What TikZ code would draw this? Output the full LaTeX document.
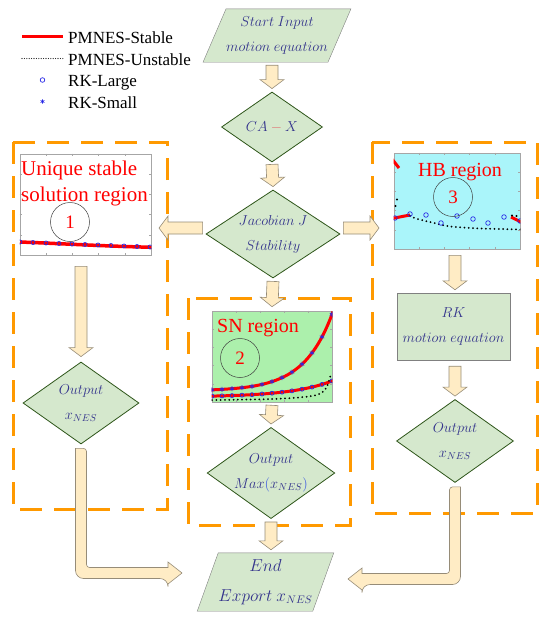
\documentclass[tikz,border=0pt]{standalone}
\usepackage[no-math]{fontspec}
\setmainfont{Liberation Serif}
\usetikzlibrary{calc,shapes.geometric,plotmarks,backgrounds}

\definecolor{boxfill}{RGB}{213,232,205}
\definecolor{boxline}{RGB}{45,85,25}
\definecolor{ink}{RGB}{52,52,140}
\definecolor{minusred}{RGB}{225,110,110}
\definecolor{parblue}{RGB}{60,90,225}
\definecolor{arrowfill}{RGB}{255,236,197}
\definecolor{arrowline}{RGB}{150,140,120}
\definecolor{dashorange}{RGB}{255,153,0}
\definecolor{snfill}{RGB}{172,240,172}
\definecolor{hbfill}{RGB}{170,245,250}
\definecolor{rkblue}{RGB}{40,40,230}

\newcommand{\panah}[2]{%
  \coordinate (pa) at (#1);
  \coordinate (pb) at (#2);
  \coordinate (ph) at ($(pb)!9pt!(pa)$);
  \filldraw[blockarrow] ($(pa)!6pt!90:(pb)$) -- ($(ph)!6pt!90:(pb)$) -- ($(ph)!12pt!90:(pb)$)
    -- (pb) -- ($(ph)!12pt!-90:(pb)$) -- ($(ph)!6pt!-90:(pb)$) -- ($(pa)!6pt!-90:(pb)$) -- cycle;}

\begin{document}
\begin{tikzpicture}[x=1pt,y=-1pt,
  flowtext/.style={text=ink,align=center,inner sep=0pt,font=\fontsize{14}{25}\selectfont},
  decision/.style={flowtext,diamond,aspect=1.5,fill=boxfill,draw=boxline,thick},
  io/.style={fill=boxfill,draw=gray},
  blockarrow/.style={fill=arrowfill,draw=arrowline,line width=0.6pt},
  region/.style={draw=dashorange,line width=3pt,dash pattern=on 22pt off 12pt},
  plotframe/.style={draw=gray!70,line width=0.6pt,inner sep=0pt},
  numcirc/.style={circle,draw=gray!50!black,line width=0.5pt,minimum size=39,inner sep=0pt,
    text=red,font=\fontsize{19}{20}\selectfont},
  stable/.style={red,line width=3pt},
  unstable/.style={black,line width=2pt,line cap=round,dash pattern=on 0pt off 4.3pt},
  rklarge/.style={rkblue,line width=0.7pt},
  legend/.style={anchor=base west,inner sep=0pt,font=\fontsize{17}{20}\selectfont}]
  \useasboundingbox (0,0) rectangle (550,624);

  \coordinate (Jl) at (159,228);
  \coordinate (Jr) at (379,228);
  \coordinate (Lt) at (182,573);
  \coordinate (Rt) at (348,579);

  \draw[region] (13,142) rectangle (167,509);
  \draw[region] (188,298) rectangle (350,525);
  \draw[region] (372,142) rectangle (537,513);

  \draw[stable] (22,36.5) -- (63,36.5);
  \node[legend] (l1) at (68,43) {PMNES-Stable};
  \draw[black,line width=1.1pt,line cap=round,dash pattern=on 0pt off 2.4pt] (22,58.5) -- (63,58.5);
  \node[legend] (l2) at (68,65) {PMNES-Unstable};
  \draw[rklarge] (42.5,80) circle (2.3);
  \node[legend] (l3) at (68,86) {RK-Large};
  \path plot[only marks,mark=asterisk,mark size=2.2pt,mark options={rkblue,line width=0.6pt}] coordinates {(42.5,101.5)};
  \node[legend] (l4) at (68,108) {RK-Small};

  \node[flowtext,minimum width=94,minimum height=53] (S) at (277,35.5) {$Start\ Input$\\$motion\ equation$};
  \node[decision,minimum width=101,minimum height=70] (CA) at (272,127) {$CA\mathbin{\color{minusred}-}X$};
  \node[decision,minimum width=134,minimum height=88] (J) at (273,234) {$Jacobian\ J$\\$Stability$};
  \node[decision,minimum width=116,minimum height=82] (OL) at (81,403) {$Output$\\$x_{NES}$};
  \node[decision,minimum width=117,minimum height=83,aspect=1.4] (OM) at (271,473) {$Output$\\$Max{\color{parblue}(}x_{NES}{\color{parblue})}$};
  \node[decision,minimum width=117,minimum height=83] (OR) at (455,441) {$Output$\\$x_{NES}$};
  \node[flowtext,draw=gray,fill=boxfill,minimum width=113,minimum height=67] (RK) at (453.5,326.5) {$RK$\\$motion\ equation$};
  \node[flowtext,font=\fontsize{16}{30}\selectfont,minimum width=91,minimum height=58] (E) at (265.5,582) {$End$\\$Export\ x_{NES}$};
  \begin{scope}[on background layer]
    \filldraw[io] ($(S.south west)+(-23,0)$) -- (S.north west) -- ($(S.north east)+(23,0)$) -- (S.south east) -- cycle;
    \filldraw[io] ($(E.south west)+(-21,0)$) -- (E.north west) -- ($(E.north east)+(21,0)$) -- (E.south east) -- cycle;
  \end{scope}

  \node[plotframe,fill=white,minimum width=131,minimum height=101] (P1) at (85.5,204.5) {};
  \node[plotframe,fill=snfill,minimum width=120,minimum height=91] (P2) at (272,356.5) {};
  \node[plotframe,fill=hbfill,minimum width=126,minimum height=96] (P3) at (457,201) {};
  \foreach \p in {P1,P2,P3} {
    \foreach \t in {0.2,0.4,0.6,0.8} {
      \draw[gray!70,line width=0.4pt] ($(\p.south west)!\t!(\p.south east)$) -- ++(0,-2.5);
      \draw[gray!70,line width=0.4pt] ($(\p.north west)!\t!(\p.north east)$) -- ++(0,2.5);
      \draw[gray!70,line width=0.4pt] ($(\p.south west)!\t!(\p.north west)$) -- ++(2.5,0);
      \draw[gray!70,line width=0.4pt] ($(\p.south east)!\t!(\p.north east)$) -- ++(-2.5,0);
    }
  }

  \begin{scope}
    \clip (P1.south west) rectangle (P1.north east);
    \draw[stable,line width=3.5pt] (20,242) .. controls (60,243.5) and (100,246) .. (152,247.3);
    \foreach \i in {0,...,10} \draw[rklarge] ({20+13*\i},{242+0.5*\i}) circle (2);
  \end{scope}
  \begin{scope}
    \clip (P2.south west) rectangle (P2.north east);
    \draw[stable] plot[domain=211:333,samples=50,smooth] (\x,{391-1.15*exp(0.035*(\x-212))});
    \draw[stable] plot[domain=211:333,samples=50,smooth] (\x,{397-0.9*exp(0.024*(\x-212))});
    \draw[unstable] plot[smooth] coordinates {(212,400) (262,399.3) (292,398) (312,396) (322,392.5) (327,386.5) (331,374)};
    \path plot[only marks,mark=asterisk,mark size=2.5pt,mark options={rkblue,line width=0.7pt},domain=212:332,samples=13] (\x,{391-1.15*exp(0.035*(\x-212))});
    \path plot[only marks,mark=o,mark size=2pt,mark options={rkblue,line width=0.7pt},domain=212:332,samples=13] (\x,{397-0.9*exp(0.024*(\x-212))});
  \end{scope}
  \begin{scope}
    \clip (P3.south west) rectangle (P3.north east);
    \draw[stable] (392,159) -- (399,168);
    \draw[stable] (392,218.5) -- (410,215);
    \draw[stable] (511,217) -- (522,222.5);
    \draw[unstable] plot[smooth] coordinates {(410,216) (416,218.5) (430,222) (447,226) (463,227.5) (480,228.5) (500,229) (522,229.5)};
    \fill (395.5,206) circle (1.2) (397,199.5) circle (1.2) (512,215.5) circle (1.2) (516.5,216) circle (1.2);
    \foreach \a/\b in {395/218,410/214,426/215,441/223,457/216,473/219,488/223,504/217,520/221}
      \draw[rklarge] (\a,\b) circle (2.3);
  \end{scope}

  \node[anchor=north west,inner sep=0pt,align=left,text=red,font=\fontsize{21}{26}\selectfont] (L1) at (21,161) {Unique stable\\solution region};
  \node[inner sep=0pt,text=red,font=\fontsize{20}{22}\selectfont] (L2) at (258,328) {SN region};
  \node[inner sep=0pt,text=red,font=\fontsize{20}{22}\selectfont] (L3) at (460,172) {HB region};
  \node[numcirc] (C1) at (70,222) {1};
  \node[numcirc] (C2) at (240,358) {2};
  \node[numcirc] (C3) at (453,197) {3};

  \panah{$(S.south -| CA.north)+(0,3)$}{$(CA.north)+(0,-3)$}
  \panah{$(CA.south)+(0,2)$}{$(J.north)+(0,-3)$}
  \panah{$(J.west)+(-3,-6)$}{Jl}
  \panah{$(J.east)+(3,-6)$}{Jr}
  \panah{$(J.south)+(0,3)$}{$(P2.north)+(0,-4)$}
  \panah{$(P2.south)+(0,3)$}{$(OM.north)+(0,-3)$}
  \panah{$(OM.south)+(0,3)$}{$(OM.south |- E.north)+(0,-3)$}
  \panah{$(P1.south -| OL.north)+(0,11)$}{$(OL.north)+(0,-5)$}
  \panah{$(P3.south -| OR.north)+(0,6)$}{$(RK.north -| OR.north)+(0,-3)$}
  \panah{$(RK.south -| OR.north)+(0,6)$}{$(OR.north)+(0,-3)$}

  \filldraw[blockarrow] ($(OL.south)+(-5.5,4)$) [rounded corners=8pt] |- ($(Lt)+(-14,5.5)$) [sharp corners]
    -- ($(Lt)+(-14,11)$) -- (Lt) -- ($(Lt)+(-14,-11)$) -- ($(Lt)+(-14,-5.5)$) [rounded corners=3pt]
    -| ($(OL.south)+(5.5,4)$) [sharp corners] -- cycle;
  \filldraw[blockarrow] ($(OR.south)+(5.5,4)$) [rounded corners=8pt] |- ($(Rt)+(14,5.5)$) [sharp corners]
    -- ($(Rt)+(14,11)$) -- (Rt) -- ($(Rt)+(14,-11)$) -- ($(Rt)+(14,-5.5)$) [rounded corners=3pt]
    -| ($(OR.south)+(-5.5,4)$) [sharp corners] -- cycle;
\end{tikzpicture}
\end{document}
